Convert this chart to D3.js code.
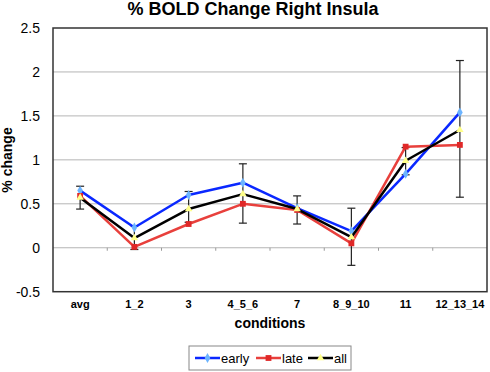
<!DOCTYPE html>
<html>
<head>
<meta charset="utf-8">
<script src="https://cdn.jsdelivr.net/npm/d3@7"></script>
<style>
  body { margin: 0; background: #fff; }
  svg { display: block; font-family: "Liberation Sans", Arial, sans-serif; }
</style>
</head>
<body>
<svg id="chart"></svg>
<script>
const categories = ["avg", "1_2", "3", "4_5_6", "7", "8_9_10", "11", "12_13_14"];
const early = [0.65, 0.23, 0.60, 0.74, 0.45, 0.19, 0.84, 1.54];
const late = [0.59, 0.01, 0.27, 0.50, 0.43, 0.05, 1.15, 1.17];
const all = [0.57, 0.11, 0.44, 0.61, 0.44, 0.12, 0.99, 1.34];
// error bar ends (on the "all" series)
const errHigh = [0.70, 0.25, 0.64, 0.955, 0.59, 0.45, 1.14, 2.13];
const errLow = [0.44, -0.02, 0.29, 0.28, 0.27, -0.20, 0.83, 0.575];
const yTicks = [-0.5, 0, 0.5, 1, 1.5, 2, 2.5];

const width = 490, height = 372;
const margin = { top: 28, right: 3, bottom: 80.3, left: 53 };

const svg = d3.select("#chart")
  .attr("width", width)
  .attr("height", height);

const x = d3.scaleBand()
  .domain(categories)
  .range([margin.left, width - margin.right]);

const y = d3.scaleLinear()
  .domain([-0.5, 2.5])
  .range([height - margin.bottom, margin.top]);

const cx = c => x(c) + x.bandwidth() / 2;

// title
svg.append("text")
  .attr("x", 253)
  .attr("y", 15)
  .attr("text-anchor", "middle")
  .style("font-size", "18px")
  .style("font-weight", "bold")
  .text("% BOLD Change Right Insula");

// gridlines
svg.append("g")
  .selectAll("line")
  .data(yTicks.filter(d => d > -0.5 && d < 2.5))
  .join("line")
  .attr("x1", margin.left)
  .attr("x2", width - margin.right)
  .attr("y1", d => y(d))
  .attr("y2", d => y(d))
  .attr("stroke", "#b5b5b5")
  .attr("stroke-width", 1);

// category tick marks on the zero line
svg.append("g")
  .selectAll("line")
  .data(categories.slice(1))
  .join("line")
  .attr("x1", d => x(d))
  .attr("x2", d => x(d))
  .attr("y1", y(0))
  .attr("y2", y(0) + 3)
  .attr("stroke", "#9a9a9a")
  .attr("stroke-width", 1);

// plot border
svg.append("rect")
  .attr("x", margin.left)
  .attr("y", margin.top)
  .attr("width", width - margin.right - margin.left)
  .attr("height", height - margin.bottom - margin.top)
  .attr("fill", "none")
  .attr("stroke", "#333")
  .attr("stroke-width", 1.5);

// y axis labels
const yAxis = d3.axisLeft(y)
  .tickValues(yTicks)
  .tickSize(0)
  .tickPadding(13)
  .tickFormat(d => String(d));

const yAxisGroup = svg.append("g")
  .attr("transform", `translate(${margin.left},0)`)
  .call(yAxis);
yAxisGroup.select(".domain").remove();
yAxisGroup.selectAll("text")
  .style("font-size", "14px")
  .style("font-family", "'Liberation Sans', Arial, sans-serif")
  .attr("fill", "#000");

// x axis labels
const xAxis = d3.axisBottom(x).tickSize(0).tickPadding(9);
const xAxisGroup = svg.append("g")
  .attr("transform", `translate(0,${height - margin.bottom})`)
  .call(xAxis);
xAxisGroup.select(".domain").remove();
xAxisGroup.selectAll("text")
  .style("font-size", "11px")
  .style("font-weight", "bold")
  .style("font-family", "'Liberation Sans', Arial, sans-serif")
  .attr("fill", "#000");

// axis titles
svg.append("text")
  .attr("x", 270)
  .attr("y", 328)
  .attr("text-anchor", "middle")
  .style("font-size", "14px")
  .style("font-weight", "bold")
  .text("conditions");

svg.append("text")
  .attr("transform", "translate(12,160) rotate(-90)")
  .attr("text-anchor", "middle")
  .style("font-size", "14px")
  .style("font-weight", "bold")
  .text("% change");

// error bars
const err = svg.append("g").attr("stroke", "#222").attr("stroke-width", 1.2);
categories.forEach((c, i) => {
  err.append("line")
    .attr("x1", cx(c)).attr("x2", cx(c))
    .attr("y1", y(errLow[i])).attr("y2", y(errHigh[i]));
  [errLow[i], errHigh[i]].forEach(v => {
    err.append("line")
      .attr("x1", cx(c) - 4).attr("x2", cx(c) + 4)
      .attr("y1", y(v)).attr("y2", y(v));
  });
});

const series = [
  { name: "early", values: early, color: "#0a28ff", marker: "diamond", fill: "#6cb4ff" },
  { name: "late", values: late, color: "#e8403c", marker: "square", fill: "#e02828" },
  { name: "all", values: all, color: "#000", marker: "triangle", fill: "#ffff8a" }
];

const symbolFor = m => m === "diamond" ? d3.symbolDiamond : m === "square" ? d3.symbolSquare : d3.symbolTriangle;
const sizeFor = m => m === "diamond" ? 28 : m === "square" ? 34 : 24;

const line = d3.line()
  .x((d, i) => cx(categories[i]))
  .y(d => y(d));

series.forEach(s => {
  svg.append("path")
    .attr("d", line(s.values))
    .attr("fill", "none")
    .attr("stroke", s.color)
    .attr("stroke-width", 2.5)
    .attr("stroke-linejoin", "round");
  svg.append("g")
    .selectAll("path")
    .data(s.values)
    .join("path")
    .attr("transform", (d, i) => `translate(${cx(categories[i])},${y(d)})`)
    .attr("d", d3.symbol(symbolFor(s.marker), sizeFor(s.marker)))
    .attr("fill", s.fill);
});

// legend
const legend = svg.append("g");
legend.append("rect")
  .attr("x", 189)
  .attr("y", 346)
  .attr("width", 162)
  .attr("height", 24)
  .attr("fill", "#fff")
  .attr("stroke", "#888")
  .attr("stroke-width", 1);

const legendX = [195, 256, 308];
series.forEach((s, i) => {
  const g = legend.append("g").attr("transform", `translate(${legendX[i]},358)`);
  g.append("line")
    .attr("x1", 0).attr("x2", 25)
    .attr("stroke", s.color)
    .attr("stroke-width", 2.5);
  g.append("path")
    .attr("transform", "translate(12.5,0)")
    .attr("d", d3.symbol(symbolFor(s.marker), sizeFor(s.marker))())
    .attr("fill", s.fill);
  g.append("text")
    .attr("x", 26)
    .attr("y", 5)
    .style("font-size", "13px")
    .text(s.name);
});
</script>
</body>
</html>
